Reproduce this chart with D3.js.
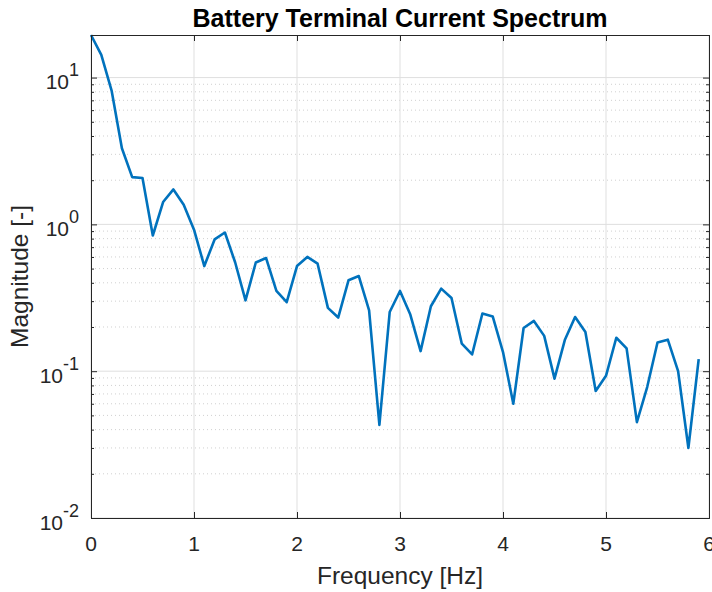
<!DOCTYPE html>
<html>
<head>
<meta charset="utf-8">
<script src="https://cdn.jsdelivr.net/npm/d3@7"></script>
<style>
  body { margin: 0; background: #fff; }
  text { font-family: "Liberation Sans", Arial, sans-serif; fill: #262626; }
</style>
</head>
<body>
<div id="chart"></div>
<script>
// frequency bins (Hz) and spectrum magnitude
const freq = [0.0, 0.1, 0.2, 0.3, 0.4, 0.5, 0.6, 0.7, 0.8, 0.9,
  1.0, 1.1, 1.2, 1.3, 1.4, 1.5, 1.6, 1.7, 1.8, 1.9,
  2.0, 2.1, 2.2, 2.3, 2.4, 2.5, 2.6, 2.7, 2.8, 2.9,
  3.0, 3.1, 3.2, 3.3, 3.4, 3.5, 3.6, 3.7, 3.8, 3.9,
  4.0, 4.1, 4.2, 4.3, 4.4, 4.5, 4.6, 4.7, 4.8, 4.9,
  5.0, 5.1, 5.2, 5.3, 5.4, 5.5, 5.6, 5.7, 5.8, 5.9];
const magnitude = [19.5, 14.3, 8.16, 3.30, 2.10, 2.07, 0.84, 1.42, 1.73, 1.36,
  0.92, 0.52, 0.79, 0.88, 0.55, 0.304, 0.55, 0.59, 0.352, 0.295,
  0.52, 0.60, 0.54, 0.27, 0.232, 0.416, 0.445, 0.26, 0.043, 0.253,
  0.352, 0.243, 0.137, 0.277, 0.365, 0.315, 0.154, 0.130, 0.247, 0.236,
  0.135, 0.060, 0.197, 0.220, 0.174, 0.089, 0.163, 0.234, 0.185, 0.0734,
  0.093, 0.169, 0.143, 0.045, 0.078, 0.157, 0.164, 0.100, 0.030, 0.121];
const xTicks = [0, 1, 2, 3, 4, 5, 6];
const yExponents = [-2, -1, 0, 1];

const width = 712, height = 592;
const margin = { top: 35, right: 3, bottom: 74, left: 91 };
const w = width - margin.left - margin.right;
const h = height - margin.top - margin.bottom;

const svg = d3.select("#chart").append("svg")
  .attr("width", width)
  .attr("height", height);

const g = svg.append("g")
  .attr("transform", "translate(" + margin.left + "," + margin.top + ")");

const x = d3.scaleLinear().domain([0, 6]).range([0, w]);
const y = d3.scaleLog().domain([0.01, 19.5]).range([h, 0]);

// minor values 2..9 in each decade
const minor = [];
yExponents.forEach(e => {
  for (let k = 2; k <= 9; k++) {
    const v = k * Math.pow(10, e);
    if (v <= y.domain()[1]) minor.push(v);
  }
});

// Minor grid (dotted)
g.append("g").selectAll("line")
  .data(minor).enter().append("line")
  .attr("x1", 0).attr("x2", w)
  .attr("y1", d => y(d)).attr("y2", d => y(d))
  .attr("stroke", "#d0d0d0").attr("stroke-width", 1)
  .attr("stroke-dasharray", "1,3");

// Major grid
g.append("g").selectAll("line")
  .data(yExponents.map(e => Math.pow(10, e))).enter().append("line")
  .attr("x1", 0).attr("x2", w)
  .attr("y1", d => y(d)).attr("y2", d => y(d))
  .attr("stroke", "#dfdfdf").attr("stroke-width", 1);
g.append("g").selectAll("line")
  .data(xTicks).enter().append("line")
  .attr("x1", d => x(d)).attr("x2", d => x(d))
  .attr("y1", 0).attr("y2", h)
  .attr("stroke", "#dfdfdf").attr("stroke-width", 1);

// Spectrum line
const line = d3.line()
  .x((d, i) => x(freq[i]))
  .y(d => y(d));
g.append("path")
  .datum(magnitude)
  .attr("fill", "none")
  .attr("stroke", "#0072BD")
  .attr("stroke-width", 2.6)
  .attr("stroke-linejoin", "round")
  .attr("d", line);

// Axes box with inward ticks
const axisColor = "#262626";
g.append("g").attr("transform", "translate(0," + h + ")")
  .call(d3.axisBottom(x).tickValues(xTicks).tickSize(-6).tickFormat(""))
  .call(s => s.select(".domain").attr("stroke", axisColor));
g.append("g")
  .call(d3.axisTop(x).tickValues(xTicks).tickSize(-6).tickFormat(""))
  .call(s => s.select(".domain").attr("stroke", axisColor));
g.append("g")
  .call(d3.axisLeft(y).tickValues(yExponents.map(e => Math.pow(10, e))).tickSize(-6).tickFormat(""))
  .call(s => s.select(".domain").attr("stroke", axisColor));
g.append("g").attr("transform", "translate(" + w + ",0)")
  .call(d3.axisRight(y).tickValues(yExponents.map(e => Math.pow(10, e))).tickSize(-6).tickFormat(""))
  .call(s => s.select(".domain").attr("stroke", axisColor));
g.append("g")
  .call(d3.axisLeft(y).tickValues(minor).tickSize(-3).tickFormat(""))
  .call(s => s.select(".domain").remove());
g.append("g").attr("transform", "translate(" + w + ",0)")
  .call(d3.axisRight(y).tickValues(minor).tickSize(-3).tickFormat(""))
  .call(s => s.select(".domain").remove());
g.selectAll(".tick line").attr("stroke", axisColor);

// X tick labels
g.append("g").selectAll("text")
  .data(xTicks).enter().append("text")
  .attr("x", d => x(d))
  .attr("y", h + 33)
  .attr("text-anchor", "middle")
  .style("font-size", "21px")
  .text(d => d);

// Y tick labels (10 with exponent)
const yLab = g.append("g").selectAll("text")
  .data(yExponents).enter().append("text")
  .attr("x", -12)
  .attr("y", d => y(Math.pow(10, d)) + 11.6)
  .attr("text-anchor", "end")
  .style("font-size", "21px");
yLab.append("tspan").text("10");
yLab.append("tspan")
  .attr("dy", -13)
  .style("font-size", "18px")
  .text(d => d);

// Title
svg.append("text")
  .attr("x", margin.left + w / 2)
  .attr("y", 27)
  .attr("text-anchor", "middle")
  .style("font-size", "25px")
  .style("font-weight", "bold")
  .style("fill", "#000")
  .text("Battery Terminal Current Spectrum");

// X label
svg.append("text")
  .attr("x", margin.left + w / 2)
  .attr("y", 583.5)
  .attr("text-anchor", "middle")
  .style("font-size", "24.5px")
  .text("Frequency [Hz]");

// Y label
svg.append("text")
  .attr("transform", "translate(28," + (margin.top + h / 2) + ") rotate(-90)")
  .attr("text-anchor", "middle")
  .style("font-size", "24.5px")
  .text("Magnitude [-]");
</script>
</body>
</html>
